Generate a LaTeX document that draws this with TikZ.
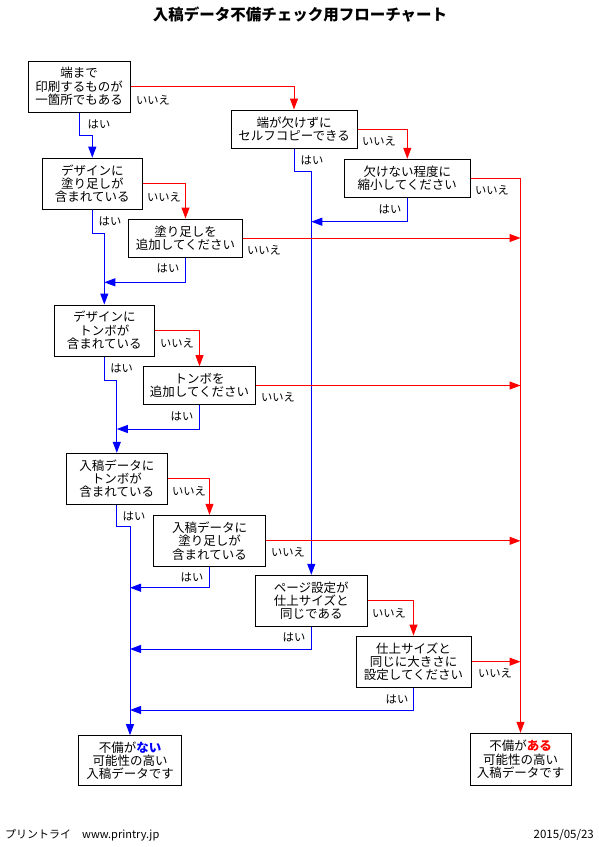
\documentclass[tikz,border=0pt]{standalone}
\usepackage{fontspec}
\setmainfont{Noto Sans CJK JP}
\usetikzlibrary{arrows.meta}

\tikzset{
	box/.style={draw,align=center,inner sep=0pt,line width=1pt,
		font=\fontsize{12.5}{13.4}\selectfont},
	yesline/.style={blue,line width=1pt,-{Triangle[length=11pt,width=8pt]}},
	noline/.style={red,line width=1pt,-{Triangle[length=11pt,width=8pt]}},
	lbl/.style={inner sep=0pt,font=\fontsize{11.3}{12}\selectfont}
}

\begin{document}
\begin{tikzpicture}[x=1pt,y=-1pt]
\useasboundingbox (0,0) rectangle (599,847);
%%% Titel
	\node[font=\fontsize{15.5}{16}\selectfont\bfseries] (title) at (300,15) {入稿データ不備チェック用フローチャート};
%%% Fragen und Anweisungen
	\node[box,minimum width=101.6,minimum height=51] (A) at (79.2,86.5) {端まで\\印刷するものが\\一箇所でもある};
	\node[box,minimum width=126,minimum height=38] (B) at (294,129) {端が欠けずに\\セルフコピーできる};
	\node[box,minimum width=126,minimum height=38] (J) at (407.3,178.3) {欠けない程度に\\縮小してください};
	\node[box,minimum width=100,minimum height=51] (C) at (92.3,183.7) {デザインに\\塗り足しが\\含まれている};
	\node[box,minimum width=113.6,minimum height=38] (D) at (185.5,238) {塗り足しを\\追加してください};
	\node[box,minimum width=100,minimum height=51] (E) at (104.3,330.5) {デザインに\\トンボが\\含まれている};
	\node[box,minimum width=112.4,minimum height=37.6] (F) at (199.5,385.5) {トンボを\\追加してください};
	\node[box,minimum width=101,minimum height=50.7] (G) at (116.8,478.7) {入稿データに\\トンボが\\含まれている};
	\node[box,minimum width=112.4,minimum height=51] (H) at (209.5,540.8) {入稿データに\\塗り足しが\\含まれている};
	\node[box,minimum width=112,minimum height=51] (I) at (311.3,600.8) {ページ設定が\\仕上サイズと\\同じである};
	\node[box,minimum width=115,minimum height=51.3] (L) at (413.5,661.7) {仕上サイズと\\同じに大きさに\\設定してください};
%%% Ergebnisse
	\node[box,minimum width=102.6,minimum height=50.3] (M) at (130,760.8) {不備が\textcolor{blue}{\bfseries ない}\\可能性の高い\\入稿データです};
	\node[box,minimum width=101,minimum height=52] (K) at (520.5,759.3) {不備が\textcolor{red}{\bfseries ある}\\可能性の高い\\入稿データです};
%%% はい-Pfeile
	\draw[yesline] (A.south) -- (A.south |- 0,135) -| (C.north);
	\draw[yesline] (C.south) -- (C.south |- 0,233.3) -| (E.north);
	\draw[yesline] (E.south) -- (E.south |- 0,380) -| (G.north);
	\draw[yesline] (G.south) -- (G.south |- 0,526) -| (M.north);
	\draw[yesline] (B.south) -- (B.south |- 0,171.7) -| (I.north);
	\draw[yesline] (D.south) |- (E.north |- 0,282.3);
	\draw[yesline] (F.south) |- (G.north |- 0,429);
	\draw[yesline] (H.south) |- (M.north |- 0,587.7);
	\draw[yesline] (I.south) |- (M.north |- 0,649);
	\draw[yesline] (L.south) |- (M.north |- 0,710);
	\draw[yesline] (J.south) |- (I.north |- 0,221.7);
%%% いいえ-Pfeile
	\draw[noline] (A.east) -| (B.north);
	\draw[noline] (C.east) -| (D.north);
	\draw[noline] (E.east) -| (F.north);
	\draw[noline] (G.east) -| (H.north);
	\draw[noline] (B.east) -| (J.north);
	\draw[noline] (I.east) -| (L.north);
	\draw[noline] (J.east) -| (K.north);
	\foreach \n in {D,F,H,L}{
		\draw[noline] (\n.east) -- (\n.east -| K.north);
	}
%%% Beschriftung der Pfeile
	\foreach \x/\y [count=\i] in {99/124,110/221,168/268,121.7/368,182/416,134/516,192/577,312/160,390/209,294/637,397/699}{
		\node[lbl] (hai\i) at (\x,\y) {はい};
	}
	\foreach \x/\y [count=\i] in {153/100,164/197,264/250,177/343,278/397,189/491,288/552,379/141,492/190,389/613,495/673}{
		\node[lbl] (iie\i) at (\x,\y) {いいえ};
	}
%%% Fusszeile
	\node[anchor=west,inner sep=0pt,font=\fontsize{11}{12}\selectfont] (site) at (5,835) {プリントライ\quad www.printry.jp};
	\node[anchor=east,inner sep=0pt,font=\fontsize{11.5}{12}\selectfont] (date) at (594,835) {2015/05/23};
\end{tikzpicture}
\end{document}
